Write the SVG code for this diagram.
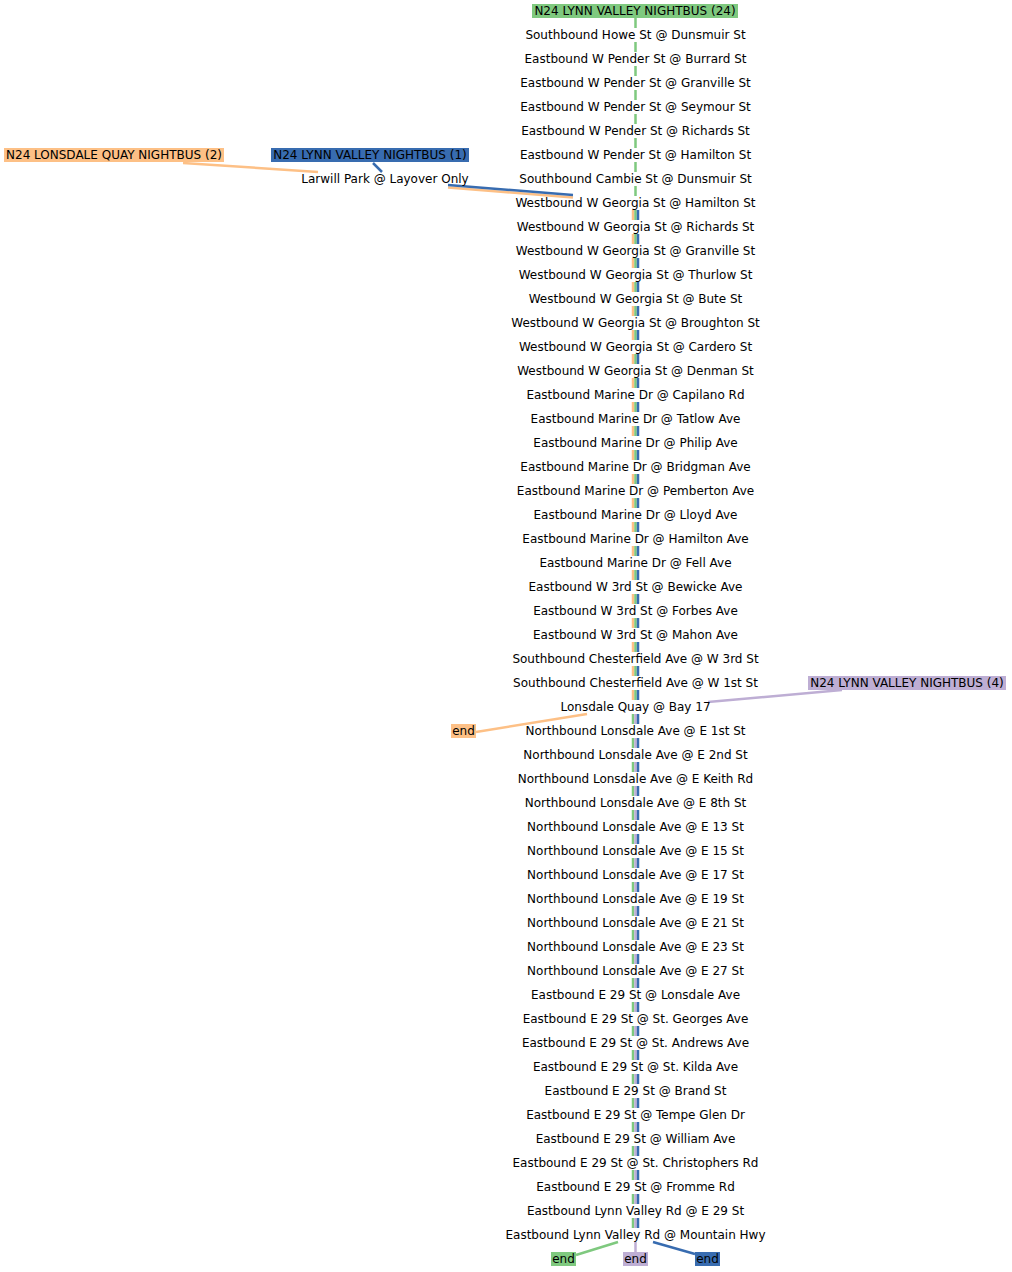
<svg xmlns="http://www.w3.org/2000/svg" width="1012" height="1272" viewBox="0 0 1012 1272">
<style>
text{font-family:"DejaVu Sans","Liberation Sans",sans-serif;font-size:12px;fill:#000;text-anchor:middle}
.e{fill:none;stroke-width:2.5}
.v{stroke-dasharray:10 14}
.g{stroke:#7fc97f}.o{stroke:#fdc086}.b{stroke:#386cb0}.p{stroke:#beaed4}
.bg{fill:#7fc97f}.bo{fill:#fdc086}.bb{fill:#386cb0}.bp{fill:#beaed4}
</style>
<rect width="1012" height="1272" fill="#fff"/>
<g id="connectors">
<path class="e g v" d="M635.5 18V196"/>
<path class="e o v" d="M633 210V700"/>
<path class="e g v" d="M635.5 210V700"/>
<path class="e b v" d="M638 210V700"/>
<path class="e g v" d="M633 714V1228"/>
<path class="e p v" d="M635.5 714V1228"/>
<path class="e b v" d="M638 714V1228"/>
<path class="e o" d="M183 163L318 172"/>
<path class="e b" d="M373 163L382 172"/>
<path class="e o" d="M448 187.5L573 197.5"/>
<path class="e b" d="M448 185L573 195"/>
<path class="e p" d="M842 690L708 702"/>
<path class="e o" d="M587 714L476 732"/>
<path class="e g" d="M618 1242L576 1255"/>
<path class="e p" d="M635.5 1242V1252"/>
<path class="e b" d="M653 1242L695 1254"/>
</g>
<g id="n_route24"><rect class="bg" x="532" y="4" width="206" height="14"/><text x="635" y="15">N24 LYNN VALLEY NIGHTBUS (24)</text></g>
<g id="n_route2"><rect class="bo" x="4" y="148" width="220" height="14"/><text x="114" y="159">N24 LONSDALE QUAY NIGHTBUS (2)</text></g>
<g id="n_route1"><rect class="bb" x="271" y="148" width="198" height="14"/><text x="370" y="159">N24 LYNN VALLEY NIGHTBUS (1)</text></g>
<g id="n_route4"><rect class="bp" x="808" y="676" width="198" height="14"/><text x="907" y="687">N24 LYNN VALLEY NIGHTBUS (4)</text></g>
<g id="n_larwill"><text x="385" y="183">Larwill Park @ Layover Only</text></g>
<g id="n_end_o"><rect class="bo" x="451" y="724" width="25" height="14"/><text x="463.5" y="735">end</text></g>
<g id="n_end_g"><rect class="bg" x="551" y="1252" width="25" height="14"/><text x="563.5" y="1263">end</text></g>
<g id="n_end_p"><rect class="bp" x="623" y="1252" width="25" height="14"/><text x="635.5" y="1263">end</text></g>
<g id="n_end_b"><rect class="bb" x="695" y="1252" width="25" height="14"/><text x="707.5" y="1263">end</text></g>
<g id="stops">
<g id="s1"><text x="635.5" y="39">Southbound Howe St @ Dunsmuir St</text></g>
<g id="s2"><text x="635.5" y="63">Eastbound W Pender St @ Burrard St</text></g>
<g id="s3"><text x="635.5" y="87">Eastbound W Pender St @ Granville St</text></g>
<g id="s4"><text x="635.5" y="111">Eastbound W Pender St @ Seymour St</text></g>
<g id="s5"><text x="635.5" y="135">Eastbound W Pender St @ Richards St</text></g>
<g id="s6"><text x="635.5" y="159">Eastbound W Pender St @ Hamilton St</text></g>
<g id="s7"><text x="635.5" y="183">Southbound Cambie St @ Dunsmuir St</text></g>
<g id="s8"><text x="635.5" y="207">Westbound W Georgia St @ Hamilton St</text></g>
<g id="s9"><text x="635.5" y="231">Westbound W Georgia St @ Richards St</text></g>
<g id="s10"><text x="635.5" y="255">Westbound W Georgia St @ Granville St</text></g>
<g id="s11"><text x="635.5" y="279">Westbound W Georgia St @ Thurlow St</text></g>
<g id="s12"><text x="635.5" y="303">Westbound W Georgia St @ Bute St</text></g>
<g id="s13"><text x="635.5" y="327">Westbound W Georgia St @ Broughton St</text></g>
<g id="s14"><text x="635.5" y="351">Westbound W Georgia St @ Cardero St</text></g>
<g id="s15"><text x="635.5" y="375">Westbound W Georgia St @ Denman St</text></g>
<g id="s16"><text x="635.5" y="399">Eastbound Marine Dr @ Capilano Rd</text></g>
<g id="s17"><text x="635.5" y="423">Eastbound Marine Dr @ Tatlow Ave</text></g>
<g id="s18"><text x="635.5" y="447">Eastbound Marine Dr @ Philip Ave</text></g>
<g id="s19"><text x="635.5" y="471">Eastbound Marine Dr @ Bridgman Ave</text></g>
<g id="s20"><text x="635.5" y="495">Eastbound Marine Dr @ Pemberton Ave</text></g>
<g id="s21"><text x="635.5" y="519">Eastbound Marine Dr @ Lloyd Ave</text></g>
<g id="s22"><text x="635.5" y="543">Eastbound Marine Dr @ Hamilton Ave</text></g>
<g id="s23"><text x="635.5" y="567">Eastbound Marine Dr @ Fell Ave</text></g>
<g id="s24"><text x="635.5" y="591">Eastbound W 3rd St @ Bewicke Ave</text></g>
<g id="s25"><text x="635.5" y="615">Eastbound W 3rd St @ Forbes Ave</text></g>
<g id="s26"><text x="635.5" y="639">Eastbound W 3rd St @ Mahon Ave</text></g>
<g id="s27"><text x="635.5" y="663">Southbound Chesterfield Ave @ W 3rd St</text></g>
<g id="s28"><text x="635.5" y="687">Southbound Chesterfield Ave @ W 1st St</text></g>
<g id="s29"><text x="635.5" y="711">Lonsdale Quay @ Bay 17</text></g>
<g id="s30"><text x="635.5" y="735">Northbound Lonsdale Ave @ E 1st St</text></g>
<g id="s31"><text x="635.5" y="759">Northbound Lonsdale Ave @ E 2nd St</text></g>
<g id="s32"><text x="635.5" y="783">Northbound Lonsdale Ave @ E Keith Rd</text></g>
<g id="s33"><text x="635.5" y="807">Northbound Lonsdale Ave @ E 8th St</text></g>
<g id="s34"><text x="635.5" y="831">Northbound Lonsdale Ave @ E 13 St</text></g>
<g id="s35"><text x="635.5" y="855">Northbound Lonsdale Ave @ E 15 St</text></g>
<g id="s36"><text x="635.5" y="879">Northbound Lonsdale Ave @ E 17 St</text></g>
<g id="s37"><text x="635.5" y="903">Northbound Lonsdale Ave @ E 19 St</text></g>
<g id="s38"><text x="635.5" y="927">Northbound Lonsdale Ave @ E 21 St</text></g>
<g id="s39"><text x="635.5" y="951">Northbound Lonsdale Ave @ E 23 St</text></g>
<g id="s40"><text x="635.5" y="975">Northbound Lonsdale Ave @ E 27 St</text></g>
<g id="s41"><text x="635.5" y="999">Eastbound E 29 St @ Lonsdale Ave</text></g>
<g id="s42"><text x="635.5" y="1023">Eastbound E 29 St @ St. Georges Ave</text></g>
<g id="s43"><text x="635.5" y="1047">Eastbound E 29 St @ St. Andrews Ave</text></g>
<g id="s44"><text x="635.5" y="1071">Eastbound E 29 St @ St. Kilda Ave</text></g>
<g id="s45"><text x="635.5" y="1095">Eastbound E 29 St @ Brand St</text></g>
<g id="s46"><text x="635.5" y="1119">Eastbound E 29 St @ Tempe Glen Dr</text></g>
<g id="s47"><text x="635.5" y="1143">Eastbound E 29 St @ William Ave</text></g>
<g id="s48"><text x="635.5" y="1167">Eastbound E 29 St @ St. Christophers Rd</text></g>
<g id="s49"><text x="635.5" y="1191">Eastbound E 29 St @ Fromme Rd</text></g>
<g id="s50"><text x="635.5" y="1215">Eastbound Lynn Valley Rd @ E 29 St</text></g>
<g id="s51"><text x="635.5" y="1239">Eastbound Lynn Valley Rd @ Mountain Hwy</text></g>
</g>
</svg>
